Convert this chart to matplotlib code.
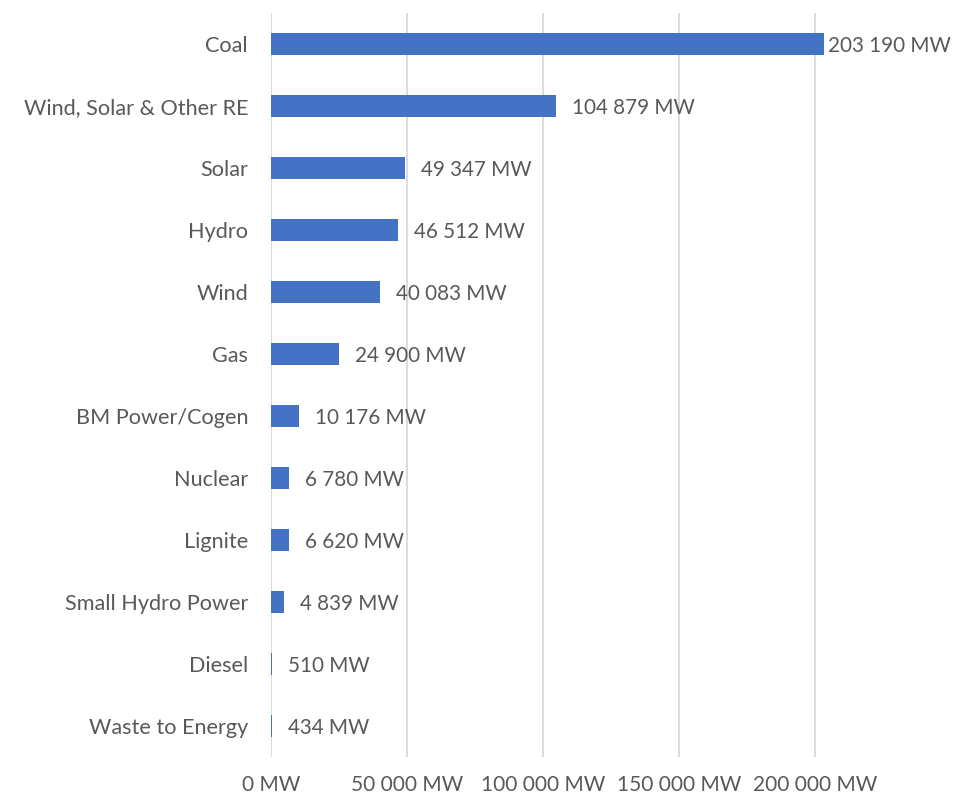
import matplotlib.pyplot as plt
from matplotlib.ticker import FuncFormatter

categories = ['Coal', 'Wind, Solar & Other RE', 'Solar', 'Hydro', 'Wind', 'Gas',
              'BM Power/Cogen', 'Nuclear', 'Lignite', 'Small Hydro Power',
              'Diesel', 'Waste to Energy']
capacity_mw = [203190, 104879, 49347, 46512, 40083, 24900,
               10176, 6780, 6620, 4839, 510, 434]
x_ticks = [0, 50000, 100000, 150000, 200000]

BLUE = '#4472C4'
TEXT = '#595959'
GRID = '#D9D9D9'


def fmt_mw(v, pos=None):
    return '{:,} MW'.format(int(v)).replace(',', ' ')


plt.rcParams['font.family'] = ['Lato', 'DejaVu Sans']
fig = plt.figure(figsize=(9.55, 7.95), dpi=100)
ax = fig.add_axes([271 / 955, 1 - 757 / 795, 680 / 955, 744 / 795])

y = list(range(len(categories)))
ax.barh(y, capacity_mw, height=0.355, color=BLUE, zorder=3)
ax.set_xlim(0, 250000)
ax.set_ylim(len(categories) - 0.5, -0.5)

ax.set_xticks(x_ticks)
ax.xaxis.set_major_formatter(FuncFormatter(fmt_mw))
ax.set_yticks(y)
ax.set_yticklabels(categories)
ax.tick_params(axis='y', length=0, pad=16.5, labelsize=15.6, colors=TEXT)
ax.tick_params(axis='x', length=0, pad=13, labelsize=15, colors=TEXT)
ax.grid(axis='x', color=GRID, linewidth=1.3, zorder=0)
for s in ax.spines.values():
    s.set_visible(False)

top = max(capacity_mw)
for yi, v in zip(y, capacity_mw):
    off = 4 if v == top else 16
    ax.annotate(fmt_mw(v), (v, yi), xytext=(off * 0.72, 0), textcoords='offset points',
                va='center_baseline', ha='left', fontsize=14.9, color=TEXT)

fig.savefig('out.png', dpi=100)
